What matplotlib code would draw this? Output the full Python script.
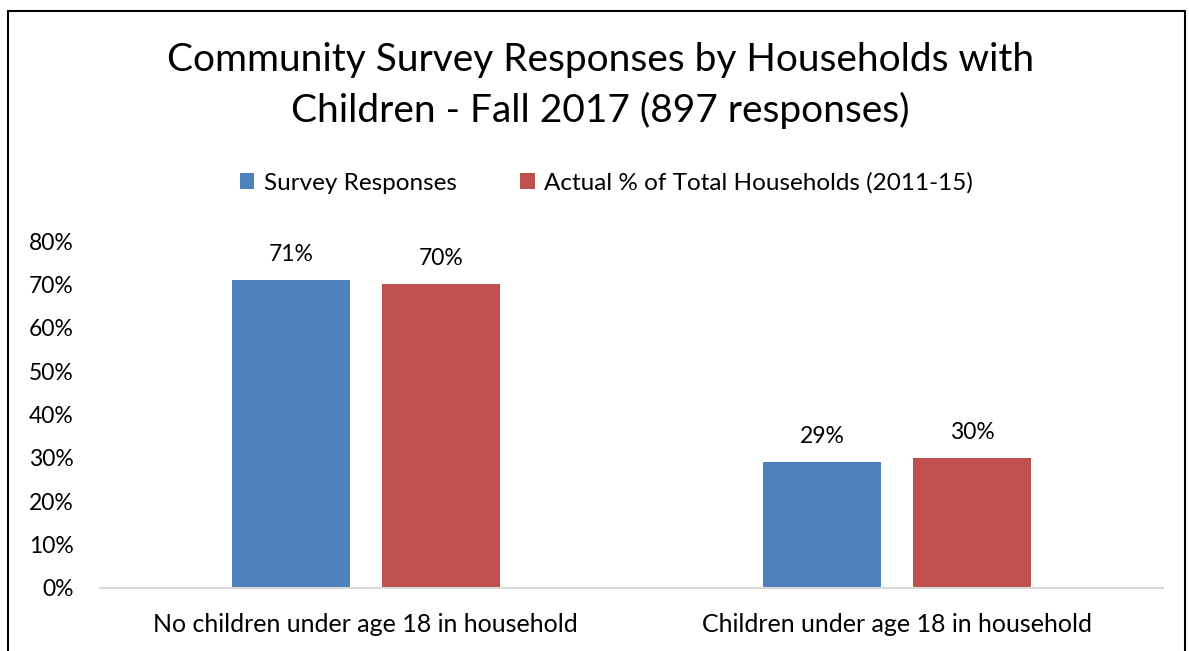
import numpy as np
import matplotlib
matplotlib.use("Agg")
from matplotlib import pyplot as plt
from matplotlib.patches import Rectangle
from matplotlib.ticker import FuncFormatter

plt.rcParams['font.family'] = ['Lato', 'DejaVu Sans']

# Data
categories = ['No children under age 18 in household',
              'Children under age 18 in household']
survey = [0.71, 0.29]
actual = [0.70, 0.30]
series_names = ['Survey Responses', 'Actual % of Total Households (2011-15)']
title = 'Community Survey Responses by Households with\nChildren - Fall 2017 (897 responses)'

W, H = 1189, 651
fig = plt.figure(figsize=(W / 100, H / 100), dpi=100)

# frame around the chart
fig.patches.append(Rectangle((8 / W, -0.05), (1185 - 8) / W, 1.05 - 11 / H,
                             transform=fig.transFigure, fill=False,
                             edgecolor='black', linewidth=1.5))

ax = fig.add_axes([100 / W, 63 / H, (1163 - 100) / W, (588 - 241) / H])

x = np.arange(len(categories))
bw = 0.222
off = 0.141
b1 = ax.bar(x - off, survey, bw, color='#4F81BD', label=series_names[0])
b2 = ax.bar(x + off, actual, bw, color='#C0504D', label=series_names[1])

for bars in (b1, b2):
    for r in bars:
        ax.annotate('%d%%' % round(r.get_height() * 100),
                    (r.get_x() + r.get_width() / 2, r.get_height()),
                    xytext=(0, 11), textcoords='offset points',
                    ha='center', va='bottom', fontsize=16.5)

ax.set_xlim(-0.5, 1.5)
ax.set_ylim(0, 0.8)
ax.set_yticks(np.arange(0, 0.81, 0.1))
ax.yaxis.set_major_formatter(FuncFormatter(lambda v, p: '%d%%' % round(v * 100)))
ax.set_xticks(x)
ax.set_xticklabels(categories, fontsize=18)
ax.tick_params(axis='both', length=0)
ax.tick_params(axis='y', pad=19, labelsize=16.5)
ax.tick_params(axis='x', pad=18)

for s in ('top', 'right', 'left'):
    ax.spines[s].set_visible(False)
ax.spines['bottom'].set_color('#D9D9D9')
ax.spines['bottom'].set_linewidth(1.5)

fig.suptitle(title, x=0.505, y=1 - 42 / H, fontsize=28, va='top', linespacing=1.45)

fig.legend(loc='center', bbox_to_anchor=(0.5 + 12 / W, 1 - 183 / H), ncol=2,
           frameon=False, fontsize=17.5, handlelength=0.6, handleheight=0.6,
           handletextpad=0.4, columnspacing=2.6)

fig.savefig('out.png', dpi=100)
